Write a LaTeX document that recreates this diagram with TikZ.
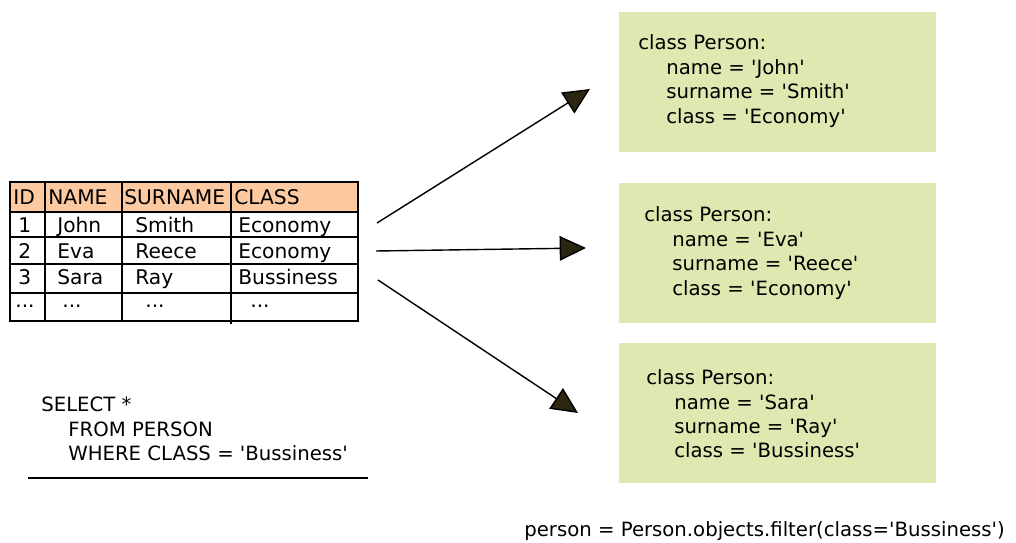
\documentclass[tikz,border=0pt]{standalone}
\usepackage{fontspec}
\setmainfont{DejaVu Sans}[Ligatures=TeXOff]
\usetikzlibrary{arrows.meta}
\definecolor{hdrorange}{RGB}{252,201,160}
\definecolor{boxgreen}{RGB}{223,232,176}
\definecolor{tipdark}{RGB}{43,38,16}

\begin{document}
\begin{tikzpicture}
  [x=0.02cm,y=-0.02cm,
   every node/.style={inner sep=0pt,anchor=base west,font=\fontsize{11.5}{13}\selectfont},
   objbox/.style={fill=boxgreen,anchor=north west,minimum width=6.34cm,minimum height=2.8cm},
   code/.style={anchor=west,align=left,font=\fontsize{11.2}{13.9}\selectfont},
   link/.style={line width=0.8pt,-{Triangle[length=15pt,width=14pt,fill=tipdark]}}]
  \useasboundingbox (0,0) rectangle (1016,543);
  % table
  \fill[hdrorange] (10,182) rectangle (358,212);
  \draw[line width=0.6pt] (10,182) rectangle (358,321);
  \foreach \y in {212,237,264,293}
    \draw[line width=0.6pt] (10,\y) -- (358,\y);
  \foreach \x/\b in {45/321,122/321,231/324}
    \draw[line width=0.6pt] (\x,182) -- (\x,\b);
  \node (hid) at (13,205) {ID};
  \node (hname) at (48,205) {NAME};
  \node (hsur) at (124,205) {SURNAME};
  \node (hcls) at (234,205) {CLASS};
  \node (id1) at (18,233) {1};
  \node (nm1) at (57,233) {John};
  \node (sn1) at (135,233) {Smith};
  \node (cl1) at (238,233) {Economy};
  \node (id2) at (18,259) {2};
  \node (nm2) at (57,259) {Eva};
  \node (sn2) at (135,259) {Reece};
  \node (cl2) at (238,259) {Economy};
  \node (id3) at (18,285) {3};
  \node (nm3) at (57,285) {Sara};
  \node (sn3) at (135,285) {Ray};
  \node (cl3) at (238,285) {Bussiness};
  \node (id4) at (15,308) {...};
  \node (nm4) at (62,308) {...};
  \node (sn4) at (145,308) {...};
  \node (cl4) at (250,308) {...};
  % sql query
  \node[code] (sql) at (41,429) {SELECT *\\\hspace*{0.54cm}FROM PERSON\\\hspace*{0.54cm}WHERE CLASS = 'Bussiness'};
  \draw[line width=0.8pt] (28,478) -- (368,478);
  % objects
  \node[objbox] (p1) at (619,12) {};
  \node[objbox] (p2) at (619,183) {};
  \node[objbox] (p3) at (619,343) {};
  \node[code] (p1txt) at (638,81) {class Person:\\\hspace*{0.56cm}name = 'John'\\\hspace*{0.56cm}surname = 'Smith'\\\hspace*{0.56cm}class = 'Economy'};
  \node[code] (p2txt) at (644,253) {class Person:\\\hspace*{0.56cm}name = 'Eva'\\\hspace*{0.56cm}surname = 'Reece'\\\hspace*{0.56cm}class = 'Economy'};
  \node[code] (p3txt) at (646,414) {class Person:\\\hspace*{0.56cm}name = 'Sara'\\\hspace*{0.56cm}surname = 'Ray'\\\hspace*{0.56cm}class = 'Bussiness'};
  \node[code] (orm) at (524,531) {person = Person.objects.filter(class='Bussiness')};
  % arrows
  \coordinate (s1) at (377,223);
  \coordinate (e1) at (590,89);
  \coordinate (s2) at (376,251);
  \coordinate (e2) at (586,248);
  \coordinate (s3) at (378,280);
  \coordinate (e3) at (578,413);
  \foreach \from/\to in {s1/e1,s2/e2,s3/e3}
    \draw[link] (\from) -- (\to);
\end{tikzpicture}
\end{document}
